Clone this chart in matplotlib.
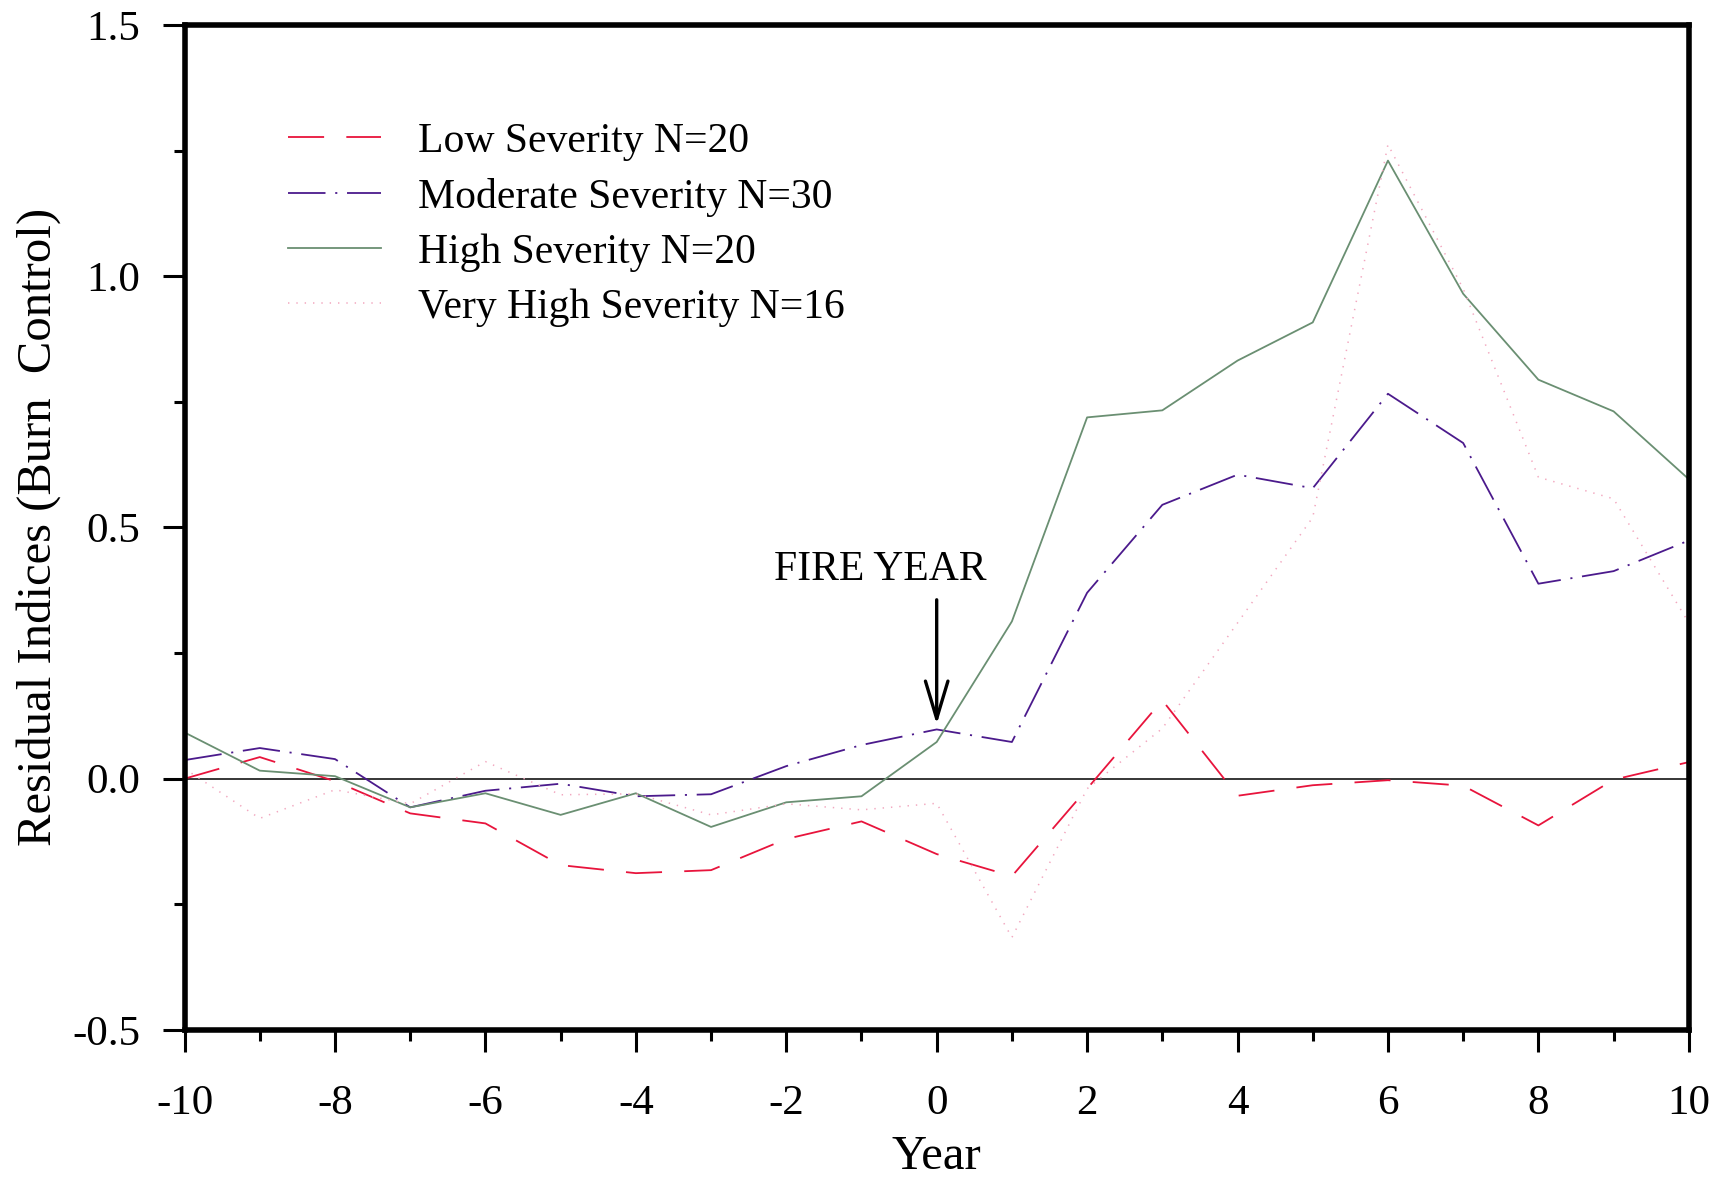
import matplotlib
matplotlib.use("Agg")
import matplotlib.pyplot as plt
from matplotlib.ticker import MultipleLocator

years = list(range(-10, 11))
low = [0.0, 0.043, -0.005, -0.069, -0.089, -0.172, -0.188, -0.182, -0.120, -0.085, -0.150,
       -0.194, -0.020, 0.156, -0.034, -0.013, -0.003, -0.014, -0.093, -0.002, 0.033]
moderate = [0.037, 0.061, 0.039, -0.057, -0.024, -0.010, -0.035, -0.031, 0.025, 0.067, 0.098,
            0.073, 0.370, 0.545, 0.605, 0.578, 0.766, 0.668, 0.388, 0.413, 0.474]
high = [0.092, 0.016, 0.005, -0.057, -0.029, -0.072, -0.029, -0.096, -0.047, -0.035, 0.073,
        0.313, 0.719, 0.733, 0.832, 0.908, 1.230, 0.965, 0.794, 0.731, 0.596]
very_high = [0.020, -0.079, -0.022, -0.050, 0.034, -0.032, -0.030, -0.072, -0.050, -0.062, -0.049,
             -0.316, -0.020, 0.100, 0.310, 0.520, 1.262, 0.975, 0.600, 0.557, 0.310]
labels = ["Low Severity N=20", "Moderate Severity N=30", "High Severity N=20",
          "Very High Severity N=16"]
xticks = list(range(-10, 11, 2))
yticks = [-0.5, 0.0, 0.5, 1.0, 1.5]
fire_year = 0
fire_text = "FIRE YEAR"

plt.rcParams['font.family'] = ['Liberation Serif', 'DejaVu Serif']
plt.rcParams['lines.scale_dashes'] = False

fig = plt.figure(figsize=(17.33, 11.81), dpi=100)
ax = fig.add_axes([0.1065, 0.1279, 0.868, 0.851])

ax.axhline(0, color='black', lw=1.1, zorder=1)
ax.plot(years, low, color='#e8143c', lw=1.3, dashes=(26, 16), label=labels[0])
ax.plot(years, moderate, color='#4b1a8c', lw=1.3, dashes=(27, 7, 1.5, 7), label=labels[1])
ax.plot(years, high, color='#6a8f72', lw=1.3, label=labels[2])
ax.plot(years, very_high, color='#f2a7bf', lw=1.1, dashes=(1, 5), label=labels[3])

ax.set_xlim(-10, 10)
ax.set_ylim(-0.5, 1.5)
ax.set_xticks(xticks)
ax.set_xticklabels([str(t) for t in xticks])
ax.set_yticks(yticks)
ax.set_yticklabels(["%.1f" % t for t in yticks])
ax.xaxis.set_minor_locator(MultipleLocator(1))
ax.yaxis.set_minor_locator(MultipleLocator(0.25))
ax.tick_params(which='major', direction='out', length=16, width=2.2, labelsize=31)
ax.tick_params(which='minor', direction='out', length=8, width=2.2)
ax.tick_params(axis='x', which='major', pad=23)
ax.tick_params(axis='y', which='major', pad=16)
for s in ax.spines.values():
    s.set_linewidth(4)

ax.set_xlabel("Year", fontsize=35, labelpad=9)
ax.set_ylabel("Residual Indices (Burn  Control)", fontsize=35, labelpad=8)

ax.annotate("", xy=(fire_year, 0.108), xytext=(fire_year, 0.356),
            arrowprops=dict(arrowstyle='->,head_length=0.9,head_width=0.27',
                            color='black', lw=2.4, mutation_scale=30,
                            shrinkA=0, shrinkB=0))
ax.text(-0.745, 0.395, fire_text, fontsize=30, ha='center', va='baseline')

ax.legend(loc='upper left', bbox_to_anchor=(0.069, 0.903), frameon=False,
          fontsize=30, handlelength=2.23, handletextpad=0.87, labelspacing=0.4,
          borderpad=0, borderaxespad=0)

fig.savefig("out.png", dpi=100)
